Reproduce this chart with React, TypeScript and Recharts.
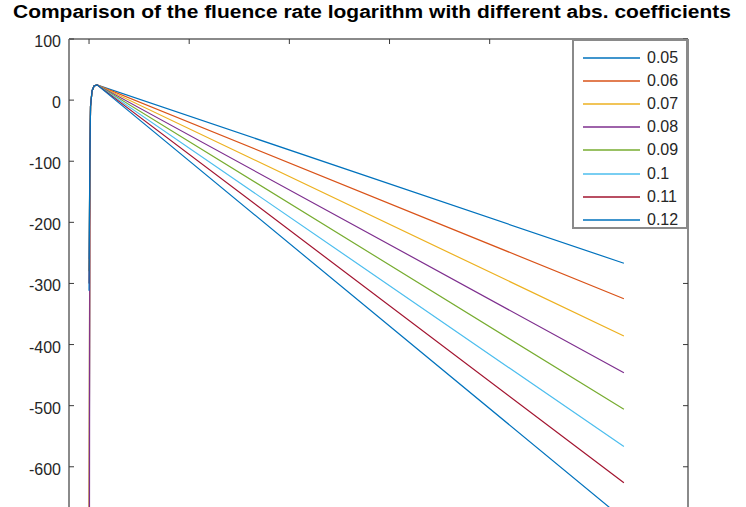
import React from 'react';
import { LineChart, Line, XAxis, YAxis, Legend } from 'recharts';

const FONT = '"Liberation Sans", Arial, sans-serif';
const AXIS = '#8a8a8a';
const TICK = '#3a3a3a';
const TEXT = '#262626';

// absorption coefficients, one curve each
const coefficients = ['0.05', '0.06', '0.07', '0.08', '0.09', '0.1', '0.11', '0.12'];
const colors = ['#0072BD', '#D95319', '#EDB120', '#7E2F8E', '#77AC30', '#4DBEEE', '#A2142F', '#0072BD'];

// distance samples shared by all curves
const distance = [0, 0.008, 0.015, 0.03, 0.05, 0.08, 5.34];
// log fluence at the source for each coefficient
const startValues = [-900, -850, -880, -1400, -280, -260, -300, -312];
// the steep rise up to the common peak (distance[1..5])
const riseValues = [-100, -10, 15, 23, 25];
// log fluence at the far end for each coefficient
const endValues = [-267, -325, -386, -446, -506, -567, -626, -686];

const xTicks = [0, 1, 2, 3, 4, 5];
const yTicks = [100, 0, -100, -200, -300, -400, -500, -600];

const rows = distance.map((d, i) => {
  const row: Record<string, number> = { d };
  coefficients.forEach((c, k) => {
    if (i === 0) row[c] = startValues[k];
    else if (i === distance.length - 1) row[c] = endValues[k];
    else row[c] = riseValues[i - 1];
  });
  return row;
});

const LeftTick = (props: any) => {
  const { x, y, payload } = props;
  return (
    <g>
      <line x1={x + 8} x2={x + 13} y1={y} y2={y} stroke={TICK} strokeWidth={1} />
      <text x={x} y={y} dy={8} textAnchor="end" fill={TEXT} fontSize={16} fontFamily={FONT}>
        {payload.value}
      </text>
    </g>
  );
};

const RightTick = (props: any) => {
  const { x, y } = props;
  return <line x1={x - 5} x2={x} y1={y} y2={y} stroke={TICK} strokeWidth={1} />;
};

const TopTick = (props: any) => {
  const { x, y } = props;
  return <line x1={x} x2={x} y1={y} y2={y + 5} stroke={TICK} strokeWidth={1} />;
};

const LegendBox = ({ payload }: any) => (
  <div
    style={{
      width: 116,
      height: 190,
      boxSizing: 'border-box',
      border: `2px solid ${AXIS}`,
      background: '#fff',
      paddingTop: 5,
      fontFamily: FONT,
      fontSize: 16,
      color: TEXT,
    }}
  >
    {(payload || []).map((p: any) => (
      <div key={p.value} style={{ display: 'flex', alignItems: 'center', height: 23.2 }}>
        <svg width={68} height={10} style={{ flex: 'none' }}>
          <line x1={9} x2={66} y1={5} y2={5} stroke={p.color} strokeWidth={1.3} />
        </svg>
        <span style={{ marginLeft: 5, lineHeight: '18px' }}>{p.value}</span>
      </div>
    ))}
  </div>
);

export default function App() {
  return (
    <div style={{ position: 'fixed', left: 0, top: 0, width: 746, height: 507, overflow: 'hidden', background: '#fff' }}>
      <svg width={746} height={30} style={{ position: 'absolute', left: 0, top: 0 }}>
        <text
          x={13}
          y={18}
          textLength={718}
          lengthAdjust="spacingAndGlyphs"
          fontFamily={FONT}
          fontWeight="bold"
          fontSize={18}
          fill="#000"
        >
          Comparison of the fluence rate logarithm with different abs. coefficients
        </text>
      </svg>
      <LineChart
        width={746}
        height={600}
        data={rows}
        margin={{ top: 9, left: 9, right: 38, bottom: 11 }}
      >
        <XAxis
          dataKey="d"
          type="number"
          orientation="top"
          domain={[-0.2, 5.98]}
          ticks={xTicks}
          allowDataOverflow
          height={30}
          tickSize={0}
          tickMargin={0}
          tickLine={false}
          tick={<TopTick />}
          interval={0}
          axisLine={{ stroke: AXIS, strokeWidth: 2 }}
        />
        <YAxis
          yAxisId="l"
          type="number"
          domain={[-800, 100]}
          ticks={yTicks}
          allowDataOverflow
          width={60}
          tickSize={0}
          tickMargin={8}
          tickLine={false}
          tick={<LeftTick />}
          interval={0}
          axisLine={{ stroke: AXIS, strokeWidth: 2 }}
        />
        <YAxis
          yAxisId="r"
          orientation="right"
          type="number"
          domain={[-800, 100]}
          ticks={yTicks}
          allowDataOverflow
          width={20}
          tickSize={0}
          tickMargin={0}
          tickLine={false}
          tick={<RightTick />}
          interval={0}
          axisLine={{ stroke: AXIS, strokeWidth: 2 }}
        />
        {coefficients.map((c, k) => (
          <Line
            key={c}
            yAxisId="l"
            dataKey={c}
            name={c}
            type="linear"
            stroke={colors[k]}
            strokeWidth={1.2}
            dot={false}
            activeDot={false}
            isAnimationActive={false}
          />
        ))}
        <Legend
          layout="vertical"
          align="center"
          verticalAlign="middle"
          wrapperStyle={{ left: 572, top: 39, width: 116, height: 190 }}
          content={<LegendBox />}
        />
      </LineChart>
    </div>
  );
}
